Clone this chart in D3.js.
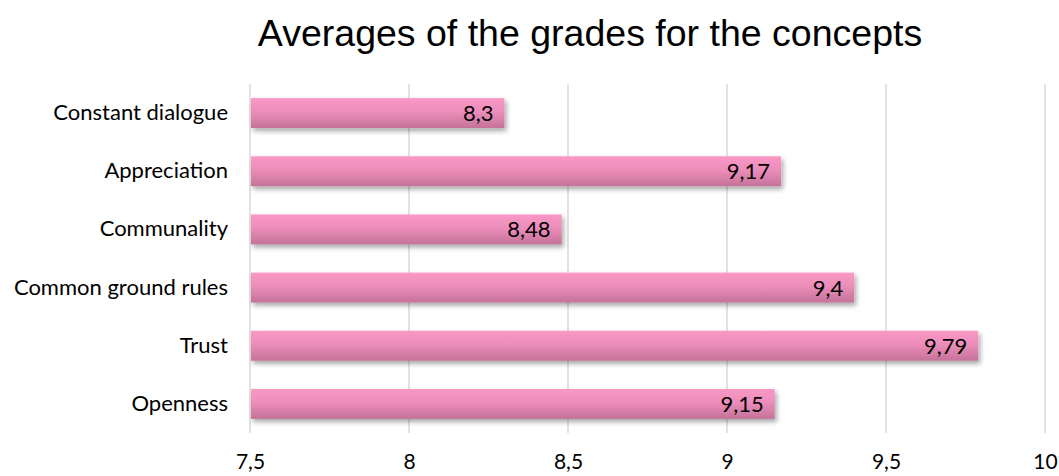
<!DOCTYPE html>
<html>
<head>
<meta charset="utf-8">
<script src="https://cdn.jsdelivr.net/npm/d3@7"></script>
<style>
  body { margin: 0; background: #fff; }
  svg { display: block; }
</style>
</head>
<body>
<svg id="chart" width="1059" height="476"></svg>
<script>
// Data
var categories = ['Constant dialogue', 'Appreciation', 'Communality', 'Common ground rules', 'Trust', 'Openness'];
var grades = [8.3, 9.17, 8.48, 9.4, 9.79, 9.15];
var tickValues = [7.5, 8, 8.5, 9, 9.5, 10];
var titleText = 'Averages of the grades for the concepts';

var svg = d3.select('#chart');
var plot = {l: 250, r: 1045, t: 84, b: 433};
var labelFont = 'Lato, "Noto Sans", sans-serif';
var fmt = function(v){ return String(v).replace('.', ','); };

var x = d3.scaleLinear().domain([7.5, 10]).range([plot.l, plot.r]);
var y = d3.scaleBand().domain(categories).range([plot.t, plot.b]).paddingInner(0.485).paddingOuter(0.2425);

// gradient + shadow for bars
var defs = svg.append('defs');
var grad = defs.append('linearGradient').attr('id','barGrad')
    .attr('x1',0).attr('y1',0).attr('x2',0).attr('y2',1);
grad.append('stop').attr('offset','0%').attr('stop-color','#fa98c6');
grad.append('stop').attr('offset','45%').attr('stop-color','#ec8dba');
grad.append('stop').attr('offset','100%').attr('stop-color','#c4729a');

var shadow = defs.append('filter').attr('id','shadow')
    .attr('x','-5%').attr('y','-30%').attr('width','115%').attr('height','180%');
shadow.append('feDropShadow').attr('dx',2).attr('dy',3).attr('stdDeviation',2.5)
    .attr('flood-color','#000').attr('flood-opacity',0.35);

// title
svg.append('text')
    .attr('x', 590).attr('y', 46)
    .attr('text-anchor','middle')
    .style('font-family','"Liberation Sans", Arial, sans-serif')
    .style('font-size','37.5px')
    .attr('fill','#000')
    .text(titleText);

// vertical gridlines
svg.append('g').selectAll('line')
    .data(tickValues)
    .enter().append('line')
    .attr('x1', function(d){ return x(d); })
    .attr('x2', function(d){ return x(d); })
    .attr('y1', plot.t).attr('y2', plot.b)
    .attr('stroke','#d9d9d9').attr('stroke-width',1.5);

// x axis labels
var xAxis = d3.axisBottom(x).tickValues(tickValues).tickFormat(fmt).tickSize(0).tickPadding(0);
var xg = svg.append('g').attr('transform','translate(0,'+plot.b+')').call(xAxis);
xg.select('.domain').remove();
xg.selectAll('text')
    .attr('y', 36).attr('dy', 0)
    .style('font-family', labelFont)
    .style('font-size','21px')
    .attr('fill','#000');

// y axis labels
var yAxis = d3.axisLeft(y).tickSize(0).tickPadding(22);
var yg = svg.append('g').attr('transform','translate('+plot.l+',0)').call(yAxis);
yg.select('.domain').remove();
yg.selectAll('text')
    .style('font-family', labelFont)
    .style('font-size','22px')
    .attr('fill','#000');

// bars
var rows = categories.map(function(c, i){ return {name: c, value: grades[i]}; });
var bars = svg.append('g').selectAll('g')
    .data(rows)
    .enter().append('g');

bars.append('rect')
    .attr('x', x(7.5) + 1)
    .attr('y', function(d){ return y(d.name); })
    .attr('width', function(d){ return x(d.value) - x(7.5) - 1; })
    .attr('height', y.bandwidth())
    .attr('fill','url(#barGrad)')
    .attr('filter','url(#shadow)');

bars.append('text')
    .attr('x', function(d){ return x(d.value) - 11; })
    .attr('y', function(d){ return y(d.name) + y.bandwidth()/2; })
    .attr('dy','0.36em')
    .attr('text-anchor','end')
    .style('font-family', labelFont)
    .style('font-size','22px')
    .attr('fill','#000')
    .text(function(d){ return fmt(d.value); });
</script>
</body>
</html>
